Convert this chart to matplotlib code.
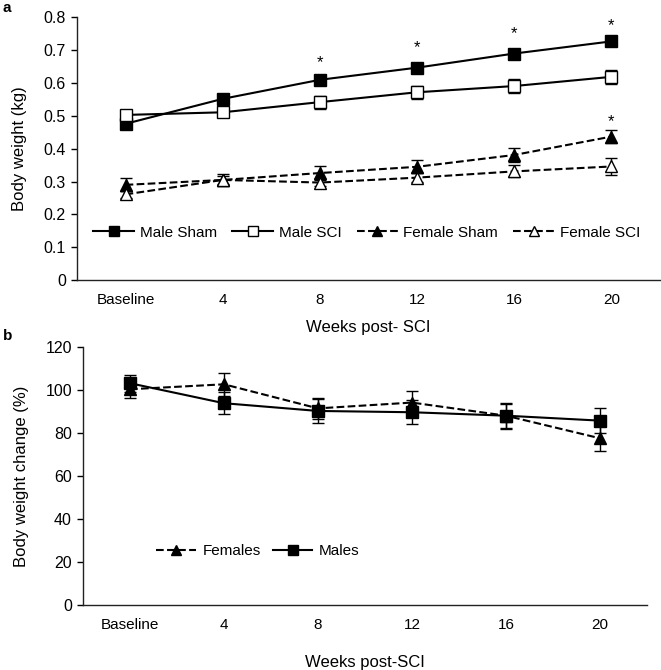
import numpy as np
import matplotlib
matplotlib.use('Agg')
import matplotlib.pyplot as plt
from matplotlib.lines import Line2D

plt.rcParams['font.family'] = ['Liberation Sans', 'DejaVu Sans']

weeks = ['Baseline', '4', '8', '12', '16', '20']

# panel a: body weight (kg)
male_sham = [0.476, 0.552, 0.610, 0.647, 0.690, 0.727]
male_sham_err = [0.013, 0.012, 0.013, 0.013, 0.013, 0.012]
male_sci = [0.503, 0.511, 0.542, 0.572, 0.591, 0.619]
male_sci_err = [0.015, 0.015, 0.020, 0.020, 0.020, 0.021]
female_sham = [0.290, 0.305, 0.326, 0.345, 0.381, 0.437]
female_sham_err = [0.020, 0.018, 0.020, 0.020, 0.021, 0.021]
female_sci = [0.261, 0.305, 0.297, 0.312, 0.331, 0.346]
female_sci_err = [0.010, 0.012, 0.012, 0.013, 0.018, 0.025]
# asterisks (significance) positions
star_idx_a = [2, 3, 4, 5]
star_y_a = [0.662, 0.707, 0.751, 0.776]
star_fs_y = 0.484

# panel b: body weight change (%)
females = [100.5, 102.8, 91.6, 94.3, 88.2, 77.7]
females_err = [4.2, 5.4, 5.0, 5.4, 5.5, 6.0]
males = [103.3, 94.0, 90.4, 89.8, 88.2, 85.9]
males_err = [4.0, 5.0, 5.4, 5.6, 6.0, 5.7]

x = np.arange(len(weeks)) + 0.5

fig = plt.figure(figsize=(6.61, 6.70), dpi=100)

def style_axes(ax):
    for s in ['top', 'right']:
        ax.spines[s].set_visible(False)
    for s in ['left', 'bottom']:
        ax.spines[s].set_color('#222222')
        ax.spines[s].set_linewidth(1.0)
    ax.set_xlim(0, len(weeks))
    ax.set_xticks(x)
    ax.set_xticklabels(weeks)
    ax.tick_params(axis='x', length=0, pad=9, labelsize=11)
    ax.tick_params(axis='y', direction='out', length=4, width=1, pad=4, labelsize=11.5)

eb = dict(capsize=4, elinewidth=1.0, capthick=1.0, color='black')

def handle(ls, mk, fc):
    return Line2D([], [], color='black', ls=ls, lw=1.5, marker=mk, ms=7,
                  mfc=fc, mec='black')

# ---- panel a ----
ax1 = fig.add_axes([0.1165, 0.582, 0.882, 0.392])
ax1.errorbar(x, male_sham, yerr=male_sham_err, fmt='-s', ms=9, mfc='black',
             mec='black', lw=1.5, **eb)
ax1.errorbar(x, male_sci, yerr=male_sci_err, fmt='-s', ms=9, mfc='white',
             mec='black', lw=1.5, **eb)
ax1.errorbar(x, female_sham, yerr=female_sham_err, fmt='--^', ms=8, mfc='black',
             mec='black', lw=1.5, **eb)
ax1.errorbar(x, female_sci, yerr=female_sci_err, fmt='--^', ms=8, mfc='white',
             mec='black', lw=1.5, **eb)
for i, yv in zip(star_idx_a, star_y_a):
    ax1.text(x[i], yv, '*', ha='center', va='center', fontsize=12)
ax1.text(x[5], star_fs_y, '*', ha='center', va='center', fontsize=12)
ax1.set_ylim(0, 0.8)
ax1.set_yticks(np.arange(0, 0.81, 0.1))
ax1.set_yticklabels(['0', '0.1', '0.2', '0.3', '0.4', '0.5', '0.6', '0.7', '0.8'])
style_axes(ax1)
ax1.set_ylabel('Body weight (kg)', fontsize=12, labelpad=12)
ax1.set_xlabel('Weeks post- SCI', fontsize=12, labelpad=10)
ha = [handle('-', 's', 'black'), handle('-', 's', 'white'),
      handle('--', '^', 'black'), handle('--', '^', 'white')]
ax1.legend(ha, ['Male Sham', 'Male SCI', 'Female Sham', 'Female SCI'],
           loc='center', bbox_to_anchor=(0.497, 0.18), ncol=4, frameon=False,
           fontsize=11, handlelength=2.7, handletextpad=0.35, columnspacing=1.0)

# ---- panel b ----
ax2 = fig.add_axes([0.1256, 0.0966, 0.853, 0.385])
ax2.errorbar(x, females, yerr=females_err, fmt='--^', ms=8, mfc='black',
             mec='black', lw=1.5, **eb)
ax2.errorbar(x, males, yerr=males_err, fmt='-s', ms=9, mfc='black',
             mec='black', lw=1.5, **eb)
ax2.set_ylim(0, 120)
ax2.set_yticks(np.arange(0, 121, 20))
style_axes(ax2)
ax2.set_ylabel('Body weight change (%)', fontsize=12, labelpad=12)
ax2.set_xlabel('Weeks post-SCI', fontsize=12, labelpad=17)
hb = [handle('--', '^', 'black'), handle('-', 's', 'black')]
ax2.legend(hb, ['Females', 'Males'],
           loc='center', bbox_to_anchor=(0.31, 0.21), ncol=2, frameon=False,
           fontsize=11, handlelength=2.6, handletextpad=0.4, columnspacing=0.8)

fig.text(0.004, 0.988, 'a', fontsize=11, fontweight='bold', va='center')
fig.text(0.004, 0.498, 'b', fontsize=11, fontweight='bold', va='center')

fig.savefig('out.png', dpi=100)
